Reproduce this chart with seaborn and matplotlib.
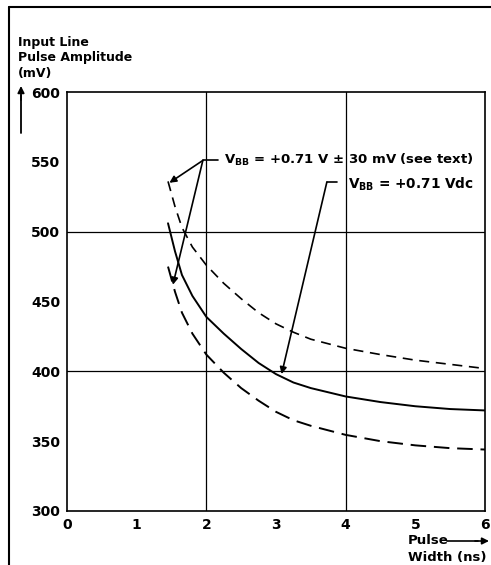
import numpy as np
import pandas as pd
import seaborn as sns
import matplotlib.pyplot as plt
from matplotlib.lines import Line2D

# データ
width_ns = [1.45, 1.55, 1.65, 1.8, 2.0, 2.25, 2.5, 2.75, 3.0, 3.25, 3.5, 4.0, 4.5, 5.0, 5.5, 6.0]
vdc = [506, 486, 469, 454, 439, 427, 416, 406, 398, 392, 388, 382, 378, 375, 373, 372]
vbb_hi = [536, 518, 503, 489, 476, 463, 452, 442, 434, 428, 423, 416.5, 412, 408, 405, 402]
vbb_lo = [475, 457, 442, 427, 412, 399, 388, 379, 371, 365, 361, 354.5, 350, 347, 345, 344]

y_ticks = [300, 350, 400, 450, 500, 550, 600]
x_ticks = [0, 1, 2, 3, 4, 5, 6]
grid_x = [2, 4]
grid_y = [400, 500]

sns.set_style("white")
plt.rcParams['font.family'] = ['DejaVu Sans']
plt.rcParams['text.color'] = 'black'
plt.rcParams['xtick.color'] = 'black'
plt.rcParams['ytick.color'] = 'black'
plt.rcParams['mathtext.fontset'] = 'custom'
plt.rcParams['mathtext.rm'] = 'DejaVu Sans:bold'
plt.rcParams['mathtext.it'] = 'DejaVu Sans:bold'
plt.rcParams['mathtext.bf'] = 'DejaVu Sans:bold'

W, H = 491, 565
fig = plt.figure(figsize=(W / 100, H / 100), dpi=100)
ax = fig.add_axes([67 / W, 1 - 511 / H, 418 / W, 419 / H])

df = pd.DataFrame({"width": width_ns, "vdc": vdc, "hi": vbb_hi, "lo": vbb_lo})

sns.lineplot(data=df, x="width", y="vdc", color="black", lw=1.4, ax=ax)
sns.lineplot(data=df, x="width", y="hi", color="black", lw=1.2,
             ax=ax).lines[-1].set_dashes([6, 4])
sns.lineplot(data=df, x="width", y="lo", color="black", lw=1.4,
             ax=ax).lines[-1].set_dashes([8, 4])

for gx in grid_x:
    ax.axvline(gx, color="black", lw=0.9)
for gy in grid_y:
    ax.axhline(gy, color="black", lw=0.9)

ax.set_xlim(0, 6)
ax.set_ylim(300, 600)
ax.set_xticks(x_ticks)
ax.set_yticks(y_ticks)
ax.tick_params(length=0, labelsize=10, pad=5, labelcolor="black")
for lab in ax.get_xticklabels() + ax.get_yticklabels():
    lab.set_fontweight("bold")
ax.set_xlabel("")
ax.set_ylabel("")
for sp in ax.spines.values():
    sp.set_color("black")
    sp.set_linewidth(1.2)

# 注釈
arrow = dict(arrowstyle='-|>', color='black', lw=1.2, mutation_scale=10,
             shrinkA=0, shrinkB=0)
ax.plot([1.95, 2.17], [551, 551], color='black', lw=1.2)
ax.annotate("", xy=(1.47, 535), xytext=(1.95, 551), arrowprops=arrow)
ax.annotate("", xy=(1.52, 462), xytext=(1.95, 551), arrowprops=arrow)
ax.text(2.26, 551, r"V$_\mathrm{BB}$ = +0.71 V ± 30 mV (see text)",
        fontsize=9.5, fontweight="bold", va="center", ha="left")

ax.plot([3.73, 3.87], [535.5, 535.5], color='black', lw=1.2)
ax.annotate("", xy=(3.08, 398), xytext=(3.73, 535.5), arrowprops=arrow)
ax.text(4.04, 534, r"V$_\mathrm{BB}$ = +0.71 Vdc",
        fontsize=9.8, fontweight="bold", va="center", ha="left")

# 軸ラベル
fig.text(18 / W, 1 - 58 / H, "Input Line\nPulse Amplitude\n(mV)", fontsize=9,
         fontweight="bold", ha="left", va="center", linespacing=1.25)
fig.add_artist(plt.Line2D([21 / W, 21 / W], [1 - 133 / H, 1 - 95 / H],
                          color='black', lw=1.3))
ax.annotate("", xy=(21, H - 86), xytext=(21, H - 100), xycoords='figure pixels',
            textcoords='figure pixels', arrowprops=arrow)

fig.text(408 / W, 1 - 540 / H, "Pulse", fontsize=9.5, fontweight="bold",
         ha="left", va="center")
fig.add_artist(plt.Line2D([447 / W, 478 / W], [1 - 541 / H, 1 - 541 / H],
                          color='black', lw=1.2))
ax.annotate("", xy=(489, H - 541), xytext=(475, H - 541), xycoords='figure pixels',
            textcoords='figure pixels', arrowprops=arrow)
fig.text(408 / W, 1 - 558 / H, "Width (ns)", fontsize=9.5, fontweight="bold",
         ha="left", va="center")

# 外枠
fig.add_artist(Line2D([9 / W, 9 / W], [0, 1 - 7 / H], color='black', lw=1.5))
fig.add_artist(Line2D([9 / W, 1], [1 - 7 / H, 1 - 7 / H], color='black', lw=1.5))

fig.savefig("out.png", dpi=100)
